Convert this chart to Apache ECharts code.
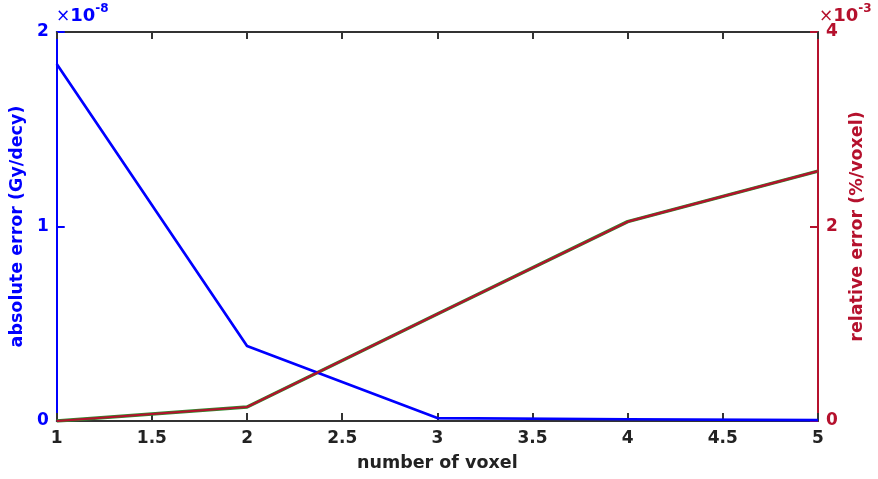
<!DOCTYPE html>
<html>
<head>
<meta charset="utf-8">
<script src="https://cdn.jsdelivr.net/npm/echarts@6/dist/echarts.min.js"></script>
<style>
  html, body { margin: 0; padding: 0; background: #fff; }
  #chart { width: 878px; height: 479px; }
</style>
</head>
<body>
<div id="chart"></div>
<script>
// number of voxels along x
const voxels = [1, 2, 3, 4, 5];
// absolute error, in units of 1e-8 Gy/decy
const absError = [1.835, 0.386, 0.015, 0.009, 0.005];
// relative error, in units of 1e-3 %/voxel
const relError = [0.0, 0.144, 1.10, 2.05, 2.57];

const FONT = 'DejaVu Sans';
const BLUE = '#0000ff';
const CRIMSON = '#b5112d';
const GREEN = '#2e8b2e';
const AXIS_GREY = '#333333';
const TICK_SIZE = 17;
const NAME_SIZE = 17.5;

const chart = echarts.init(document.getElementById('chart'));

const pairs = (ys) => voxels.map((x, i) => [x, ys[i]]);

chart.setOption({
  animation: false,
  backgroundColor: '#ffffff',
  grid: { left: 55, right: 60, top: 32, bottom: 58, containLabel: false },
  xAxis: [
    {
      type: 'value', min: 1, max: 5, interval: 0.5, position: 'bottom',
      name: 'number of voxel', nameLocation: 'middle', nameGap: 33,
      nameTextStyle: { fontFamily: FONT, fontWeight: 'bold', fontSize: NAME_SIZE, color: '#222' },
      axisLine: { onZero: false, lineStyle: { color: AXIS_GREY, width: 2 } },
      axisTick: { inside: true, length: 8, lineStyle: { color: AXIS_GREY, width: 2 } },
      axisLabel: { fontFamily: FONT, fontWeight: 'bold', fontSize: TICK_SIZE, color: '#222', margin: 9 },
      splitLine: { show: false }
    },
    {
      type: 'value', min: 1, max: 5, interval: 0.5, position: 'top',
      axisLine: { onZero: false, lineStyle: { color: AXIS_GREY, width: 2 } },
      axisTick: { inside: true, length: 7, lineStyle: { color: AXIS_GREY, width: 2 } },
      axisLabel: { show: false },
      splitLine: { show: false }
    }
  ],
  yAxis: [
    {
      type: 'value', min: 0, max: 2, interval: 1, position: 'left',
      name: 'absolute error (Gy/decy)', nameLocation: 'middle', nameGap: 25, nameRotate: 90,
      nameTextStyle: { fontFamily: FONT, fontWeight: 'bold', fontSize: NAME_SIZE, color: BLUE },
      axisLine: { show: true, onZero: false, lineStyle: { color: BLUE, width: 2 } },
      axisTick: { show: true, inside: true, length: 8, lineStyle: { color: BLUE, width: 2 } },
      axisLabel: { fontFamily: FONT, fontWeight: 'bold', fontSize: TICK_SIZE, color: BLUE, margin: 8 },
      splitLine: { show: false }
    },
    {
      type: 'value', min: 0, max: 4, interval: 2, position: 'right',
      name: 'relative error (%/voxel)', nameLocation: 'middle', nameGap: 28, nameRotate: 90,
      nameTextStyle: { fontFamily: FONT, fontWeight: 'bold', fontSize: NAME_SIZE, color: CRIMSON },
      axisLine: { show: true, onZero: false, lineStyle: { color: CRIMSON, width: 2 } },
      axisTick: { show: true, inside: true, length: 8, lineStyle: { color: CRIMSON, width: 2 } },
      axisLabel: { fontFamily: FONT, fontWeight: 'bold', fontSize: TICK_SIZE, color: CRIMSON, margin: 8 },
      splitLine: { show: false }
    }
  ],
  series: [
    {
      name: 'absolute', type: 'line', xAxisIndex: 0, yAxisIndex: 0,
      data: pairs(absError), symbol: 'none', z: 3,
      lineStyle: { color: BLUE, width: 2.7 }
    },
    {
      name: 'relative (outline)', type: 'line', xAxisIndex: 0, yAxisIndex: 1,
      data: pairs(relError), symbol: 'none', z: 2,
      lineStyle: { color: GREEN, width: 3.5 }
    },
    {
      name: 'relative', type: 'line', xAxisIndex: 0, yAxisIndex: 1,
      data: pairs(relError), symbol: 'none', z: 4,
      lineStyle: { color: CRIMSON, width: 2.2 }
    }
  ],
  graphic: [
    {
      type: 'text', left: 56, top: 3,
      style: {
        text: '{x|×}{b|10}{e|-8}',
        rich: {
          x: { fontFamily: FONT, fontSize: 17, fill: BLUE, padding: [6, 0, 0, 0] },
          b: { fontFamily: FONT, fontSize: 18, fontWeight: 'bold', fill: BLUE, padding: [6, 0, 0, 0] },
          e: { fontFamily: FONT, fontSize: 12, fontWeight: 'bold', fill: BLUE, padding: [0, 0, 9, 0] }
        }
      }
    },
    {
      type: 'text', left: 819, top: 3,
      style: {
        text: '{x|×}{b|10}{e|-3}',
        rich: {
          x: { fontFamily: FONT, fontSize: 17, fill: CRIMSON, padding: [6, 0, 0, 0] },
          b: { fontFamily: FONT, fontSize: 18, fontWeight: 'bold', fill: CRIMSON, padding: [6, 0, 0, 0] },
          e: { fontFamily: FONT, fontSize: 12, fontWeight: 'bold', fill: CRIMSON, padding: [0, 0, 9, 0] }
        }
      }
    }
  ]
});
</script>
</body>
</html>
